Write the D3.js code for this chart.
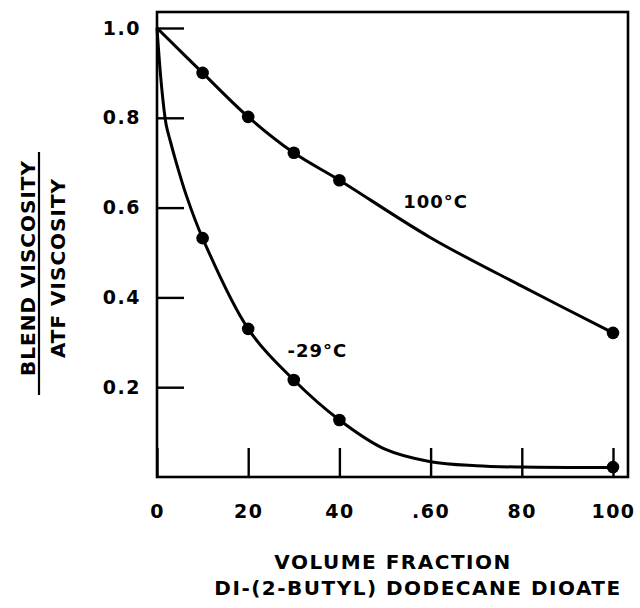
<!DOCTYPE html>
<html>
<head>
<meta charset="utf-8">
<script src="https://cdn.jsdelivr.net/npm/d3@7"></script>
<style>
  html, body { margin: 0; padding: 0; background: #fff; }
  svg { display: block; }
  text { font-family: "DejaVu Sans", sans-serif; font-weight: bold; fill: #000; }
</style>
</head>
<body>
<svg id="chart" width="640" height="608"></svg>
<script>
// ---- data ----
const markerX = [10, 20, 30, 40, 100];
const hot100Values = [0.90, 0.802, 0.722, 0.661, 0.321];
const cold29Values = [0.532, 0.33, 0.216, 0.127, 0.022];

// traced smooth curves
const hot100CurveX = [0, 10, 20, 30, 40, 60, 80, 100];
const hot100CurveY = [1.0, 0.90, 0.802, 0.722, 0.661, 0.533, 0.425, 0.321];
const cold29CurveX = [0, 1, 2, 3, 4, 6.5, 10, 20, 30, 40, 50, 60, 70, 80, 100];
const cold29CurveY = [1.0, 0.87, 0.785, 0.745, 0.708, 0.625, 0.532, 0.33, 0.216, 0.127, 0.062, 0.034, 0.025, 0.022, 0.021];

const xTicks = [0, 20, 40, 60, 80, 100];
const xTickLabels = ["0", "20", "40", ".60", "80", "100"];
const yTicks = [0.2, 0.4, 0.6, 0.8, 1.0];
const yTickLabels = ["0.2", "0.4", "0.6", "0.8", "1.0"];

const seriesLabels = ["100°C", "-29°C"];
const yTitleTop = "BLEND VISCOSITY";
const yTitleBottom = "ATF VISCOSITY";
const xTitle1 = "VOLUME FRACTION";
const xTitle2 = "DI-(2-BUTYL) DODECANE DIOATE";

// ---- layout ----
const svg = d3.select("#chart");
const frame = { left: 157, right: 628, top: 12, bottom: 477 };
const x = d3.scaleLinear().domain([0, 100]).range([157, 613]);
const y = d3.scaleLinear().domain([0, 1]).range([477, 28]);

// frame
svg.append("rect")
  .attr("x", frame.left).attr("y", frame.top)
  .attr("width", frame.right - frame.left)
  .attr("height", frame.bottom - frame.top)
  .attr("fill", "none").attr("stroke", "#000").attr("stroke-width", 2.6);

// x axis (inward ticks)
const xAxis = d3.axisBottom(x)
  .tickValues(xTicks)
  .tickFormat((d, i) => xTickLabels[i])
  .tickSizeInner(-29).tickSizeOuter(0).tickPadding(28);
const gx = svg.append("g").attr("transform", `translate(0,${frame.bottom})`).call(xAxis);
gx.select(".domain").remove();
gx.selectAll(".tick line").attr("stroke", "#000").attr("stroke-width", 2.4);
gx.selectAll(".tick text")
  .style("font-size", "19px").style("font-family", "DejaVu Sans").style("font-weight", "bold")
  .attr("letter-spacing", "1.5").attr("fill", "#000");

// y axis (inward ticks)
const yAxis = d3.axisLeft(y)
  .tickValues(yTicks)
  .tickFormat((d, i) => yTickLabels[i])
  .tickSizeInner(-27).tickSizeOuter(0).tickPadding(16);
const gy = svg.append("g").attr("transform", `translate(${frame.left},0)`).call(yAxis);
gy.select(".domain").remove();
gy.selectAll(".tick line").attr("stroke", "#000").attr("stroke-width", 2.4);
gy.selectAll(".tick text")
  .style("font-size", "19px").style("font-family", "DejaVu Sans").style("font-weight", "bold")
  .attr("letter-spacing", "1.5").attr("fill", "#000");

// curves
const line = d3.line().x(d => x(d[0])).y(d => y(d[1])).curve(d3.curveCatmullRom.alpha(0.5));
const hotCurve = hot100CurveX.map((v, i) => [v, hot100CurveY[i]]);
const coldCurve = cold29CurveX.map((v, i) => [v, cold29CurveY[i]]);
[hotCurve, coldCurve].forEach(c => {
  svg.append("path").datum(c).attr("d", line)
    .attr("fill", "none").attr("stroke", "#000").attr("stroke-width", 3)
    .attr("stroke-linejoin", "round");
});

// markers
[hot100Values, cold29Values].forEach(vals => {
  svg.append("g").selectAll("circle").data(markerX).join("circle")
    .attr("cx", d => x(d)).attr("cy", (d, i) => y(vals[i]))
    .attr("r", 6.3).attr("fill", "#000");
});

// series labels
svg.append("text").attr("x", x(54)).attr("y", y(0.599))
  .style("font-size", "18px").attr("letter-spacing", "1").text(seriesLabels[0]);
svg.append("text").attr("x", x(28.6)).attr("y", y(0.267))
  .style("font-size", "18px").attr("letter-spacing", "1").text(seriesLabels[1]);

// y title (fraction)
svg.append("text").attr("transform", "translate(35,268) rotate(-90)")
  .attr("text-anchor", "middle").style("font-size", "20px").attr("letter-spacing", "1")
  .text(yTitleTop);
svg.append("line").attr("x1", 39).attr("x2", 39).attr("y1", 152).attr("y2", 395)
  .attr("stroke", "#000").attr("stroke-width", 2.2);
svg.append("text").attr("transform", "translate(65,268) rotate(-90)")
  .attr("text-anchor", "middle").style("font-size", "20px").attr("letter-spacing", "1")
  .text(yTitleBottom);

// x titles
svg.append("text").attr("x", 393).attr("y", 569).attr("text-anchor", "middle")
  .style("font-size", "20px").attr("letter-spacing", "1.5").text(xTitle1);
svg.append("text").attr("x", 418).attr("y", 595).attr("text-anchor", "middle")
  .style("font-size", "20px").attr("letter-spacing", "1.5").text(xTitle2);
</script>
</body>
</html>
